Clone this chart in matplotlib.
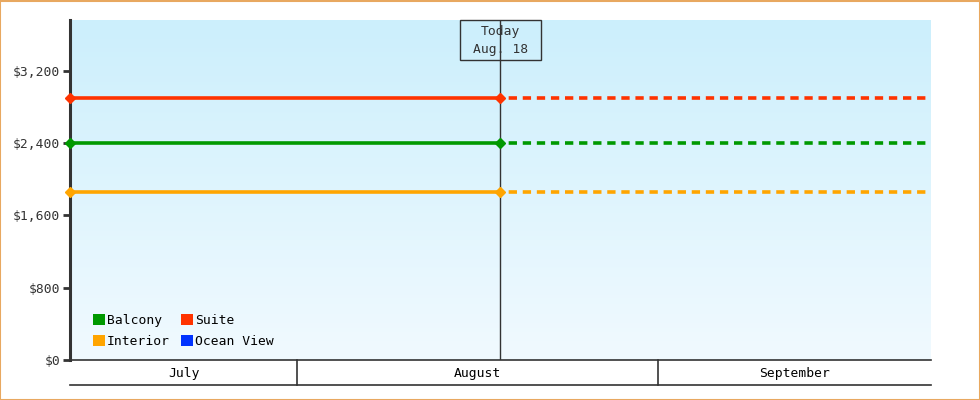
import numpy as np
import matplotlib
matplotlib.use("Agg")
import matplotlib.pyplot as plt
import matplotlib.dates as mdates
import matplotlib.transforms as mtransforms
from matplotlib.patches import Rectangle
from datetime import datetime

# ---- data ----
series_names = ["Balcony", "Suite", "Interior", "Ocean View"]
series_colors = ["#009900", "#ff3300", "#ffa500", "#0033ff"]
series_values = [2400, 2900, 1860, None]   # Ocean View has no data
start_date = datetime(2024, 7, 12, 10)
today_date = datetime(2024, 8, 18, 11)
end_date = datetime(2024, 9, 24, 13)
month_starts = [datetime(2024, 7, 1), datetime(2024, 8, 1), datetime(2024, 9, 1), datetime(2024, 10, 1)]
month_labels = ["July", "August", "September"]
y_ticks = [0, 800, 1600, 2400, 3200]
y_labels = ["$0", "$800", "$1,600", "$2,400", "$3,200"]
y_max = 3760
today_label = "Today\nAug. 18"

plt.rcParams['font.family'] = ['DejaVu Sans Mono']
FS = 9.4
dark = "#333333"

fig = plt.figure(figsize=(9.8, 4.0), dpi=100)
fig.patch.set_facecolor("white")
# orange border
fig.add_artist(Rectangle((0.0005, 0.001), 0.999, 0.9975, transform=fig.transFigure,
                         fill=False, edgecolor="#e8a860", linewidth=1.5))

AX_W_PX, AX_H_PX = 861, 340
ax = fig.add_axes([70/980, 40/400, AX_W_PX/980, AX_H_PX/400])
x0, x1 = mdates.date2num(start_date), mdates.date2num(end_date)
xt = mdates.date2num(today_date)
ax.set_xlim(x0, x1)
ax.set_ylim(0, y_max)

# gradient background (top darker blue -> bottom lighter)
top = np.array([204, 239, 252]) / 255
bot = np.array([241, 250, 255]) / 255
t = np.linspace(0, 1, 256)[:, None]
grad = (top[None, :] * (1 - t) + bot[None, :] * t)[:, None, :]
ax.imshow(grad, extent=[x0, x1, 0, y_max], aspect="auto", zorder=0, origin="upper")
ax.set_xlim(x0, x1)
ax.set_ylim(0, y_max)

for name, col, val in zip(series_names, series_colors, series_values):
    if val is None:
        continue
    ax.plot([x0, xt], [val, val], color=col, lw=2.6, zorder=3, solid_capstyle="butt")
    ax.plot([xt, x1], [val, val], color=col, lw=2.6, zorder=3, linestyle=(1.5, (2.3, 1.6)))
    ax.plot([x0, xt], [val, val], linestyle="none", marker="D", ms=5.5, color=col,
            zorder=4, clip_on=False)

# today line
ax.plot([xt, xt], [0, y_max], color=dark, lw=1, zorder=2)
px_per_day = AX_W_PX / (x1 - x0)
box_w = 81 / px_per_day
box_h = 40 / AX_H_PX * y_max
ax.add_patch(Rectangle((xt - box_w / 2, y_max - box_h), box_w, box_h, facecolor="none",
                       edgecolor=dark, lw=1, zorder=5, clip_on=False))
ax.text(xt, y_max - box_h / 2 - 10, today_label, ha="center", va="center", fontsize=FS,
        color=dark, linespacing=1.5, zorder=6)

# axes styling
for s in ["top", "right"]:
    ax.spines[s].set_visible(False)
ax.spines["left"].set_color(dark)
ax.spines["left"].set_linewidth(2.2)
ax.spines["bottom"].set_color(dark)
ax.spines["bottom"].set_linewidth(1.2)
ax.set_yticks(y_ticks)
ax.set_yticklabels(y_labels, fontsize=FS, color=dark)
ax.tick_params(axis="y", length=5, width=2, color=dark, pad=2)
ax.set_xticks([])

# month band below axis
trans = mtransforms.blended_transform_factory(ax.transData, ax.transAxes)
band = -25 / AX_H_PX
ax.plot([x0, x1], [band, band], transform=trans, color=dark, lw=1.2, clip_on=False)
ms = [mdates.date2num(d) for d in month_starts]
for i, lab in enumerate(month_labels):
    a, b = max(ms[i], x0), min(ms[i + 1], x1)
    if ms[i] > x0:
        ax.plot([ms[i], ms[i]], [0, band], transform=trans, color=dark, lw=1.2, clip_on=False)
    ax.text((a + b) / 2, band / 2 - 0.003, lab, transform=trans, ha="center", va="center",
            fontsize=FS, color="black")

# legend
handles = [Rectangle((0, 0), 1, 1, facecolor=c, edgecolor="none") for c in series_colors]
order = [0, 2, 1, 3]
leg = ax.legend([handles[i] for i in order], [series_names[i] for i in order], ncol=2,
                loc="lower left", bbox_to_anchor=(0.015, 0.004), frameon=False,
                fontsize=FS, handlelength=0.9, handleheight=0.9, handletextpad=0.15,
                columnspacing=0.85, labelspacing=0.62, borderaxespad=0.4)

fig.savefig("out.png", dpi=100, facecolor="white")
